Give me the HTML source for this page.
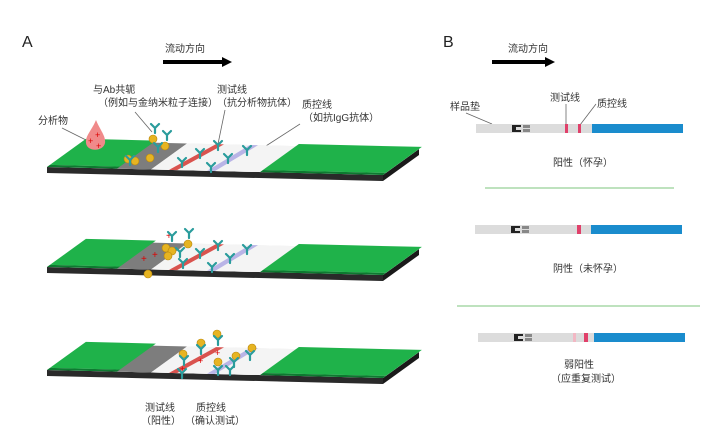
<!DOCTYPE html>
<html><head><meta charset="utf-8"><style>
html,body{margin:0;padding:0;background:#fff;width:716px;height:447px;overflow:hidden}
svg text{font-family:"Liberation Sans","Noto Sans CJK SC",sans-serif;fill:#333}
</style></head><body>
<svg width="716" height="447" viewBox="0 0 716 447" xmlns="http://www.w3.org/2000/svg">
<defs>
<g id="strip">
  <polygon points="47,167 383,175 383,181 47,173" fill="#2a2a2a"/>
  <polygon points="419,149 383,175 383,181 419,155" fill="#1a1a1a"/>
  <g transform="matrix(1,0.0238,1.44,-1.04,47,167)">
    <polygon points="0,0 336,0 336,25 0,25" fill="#e8e8e8"/>
    <polygon points="68,0 104,0 104,25 68,25" fill="#7d7d7d"/>
    <polygon points="104,0 216,0 216,25 104,25" fill="#f4f4f4"/>
    <polygon points="122,0 130,0 141,25 133,25" fill="#d9534f"/>
    <polygon points="160,0 168,0 175,25 167,25" fill="#b9b4e6"/>
    <polygon points="0,2 70,2 70,27 0,27" fill="#1fb24a"/>
    <polygon points="213,2 336,2 336,27 213,27" fill="#1fb24a"/>
    <polygon points="0,0 70,0 70,2 0,2" fill="#0d7a30"/>
    <polygon points="213,0 336,0 336,2 213,2" fill="#0d7a30"/>
  </g>
</g>
<g id="ab"><path d="M0,0 L0,-5 M0,-5 L-4,-9 M0,-5 L4,-9" stroke="#2a9c9c" stroke-width="2.2" fill="none" stroke-linecap="round"/></g>
<circle id="au" r="4" fill="#e6b422" stroke="#b8860b" stroke-width="0.6"/>
</defs>

<text x="22" y="47" font-size="16" style="fill:#222">A</text>
<text x="165" y="52" font-size="10">流动方向</text>
<polygon points="163,60 222,60 222,57 232,62 222,67 222,64 163,64" fill="#000"/>

<text x="93" y="93" font-size="10">与Ab共轭</text>
<text x="98" y="106" font-size="10">（例如与金纳米粒子连接）</text>
<text x="217" y="93" font-size="10">测试线</text>
<text x="217" y="106" font-size="10">（抗分析物抗体）</text>
<text x="302" y="108" font-size="10">质控线</text>
<text x="303" y="121" font-size="10">（如抗IgG抗体）</text>
<text x="38" y="124" font-size="10">分析物</text>
<line x1="62" y1="128" x2="86" y2="140" stroke="#666" stroke-width="0.8"/>
<line x1="135" y1="112" x2="152" y2="132" stroke="#666" stroke-width="0.8"/>
<line x1="225" y1="110" x2="218" y2="144" stroke="#666" stroke-width="0.8"/>
<line x1="300" y1="124" x2="255" y2="153" stroke="#666" stroke-width="0.8"/>

<use href="#strip"/>
<path d="M96,120 C100,130 106,136 105,143 C103,152 87,152 86,143 C85,136 92,130 96,120Z" fill="#f08a8a"/>
<text x="88" y="144" font-size="9" style="fill:#d00">+</text><text x="95" y="138" font-size="9" style="fill:#d00">+</text><text x="96" y="149" font-size="9" style="fill:#d00">+</text>
<g>
<use href="#au" x="153" y="139"/><use href="#au" x="165" y="146"/><use href="#au" x="150" y="158"/><use href="#au" x="135" y="161"/><use href="#au" x="128" y="159"/>
<use href="#ab" x="155" y="133"/><use href="#ab" x="167" y="140"/><use href="#ab" x="158" y="152"/><use href="#ab" x="130" y="165"/>
<use href="#ab" x="218" y="150"/><use href="#ab" x="200" y="158"/><use href="#ab" x="182" y="167"/>
<use href="#ab" x="247" y="155"/><use href="#ab" x="228" y="163"/><use href="#ab" x="211" y="172"/>
</g>

<g transform="translate(0,100)"><use href="#strip"/></g>
<text x="166" y="239" font-size="10" style="fill:#d00">+</text>
<text x="141" y="262" font-size="10" style="fill:#d00">+</text><text x="152" y="258" font-size="10" style="fill:#d00">+</text>
<use href="#au" x="166" y="248"/><use href="#au" x="172" y="251"/><use href="#au" x="168" y="256"/><use href="#au" x="188" y="244"/><use href="#au" x="148" y="274"/>
<use href="#ab" x="172" y="241"/><use href="#ab" x="189" y="238"/><use href="#ab" x="180" y="257"/>
<use href="#ab" x="218" y="250"/><use href="#ab" x="200" y="258"/><use href="#ab" x="183" y="268"/>
<use href="#ab" x="247" y="254"/><use href="#ab" x="230" y="263"/><use href="#ab" x="212" y="272"/>

<g transform="translate(0,203)"><use href="#strip"/></g>
<use href="#au" x="183" y="354"/><use href="#au" x="201" y="343"/><use href="#au" x="217" y="334"/><use href="#au" x="236" y="356"/><use href="#au" x="252" y="348"/><use href="#au" x="218" y="362"/>
<use href="#ab" x="184" y="365"/><use href="#ab" x="201" y="354"/><use href="#ab" x="218" y="345"/><use href="#ab" x="234" y="367"/><use href="#ab" x="250" y="360"/><use href="#ab" x="218" y="375"/><use href="#ab" x="182" y="378"/><use href="#ab" x="230" y="375"/>
<text x="180" y="372" font-size="9" style="fill:#d00">+</text><text x="198" y="364" font-size="9" style="fill:#d00">+</text><text x="215" y="356" font-size="9" style="fill:#d00">+</text>
<text x="145" y="411" font-size="10">测试线</text>
<text x="141" y="424" font-size="10">（阳性）</text>
<text x="196" y="411" font-size="10">质控线</text>
<text x="185" y="424" font-size="10">（确认测试）</text>

<text x="443" y="47" font-size="16" style="fill:#222">B</text>
<text x="508" y="52" font-size="10">流动方向</text>
<polygon points="492,60 545,60 545,57 555,62 545,67 545,64 492,64" fill="#000"/>

<text x="450" y="110" font-size="10">样品垫</text>
<line x1="466" y1="113" x2="492" y2="124" stroke="#666" stroke-width="0.8"/>
<text x="550" y="101" font-size="10">测试线</text>
<line x1="566" y1="104" x2="566" y2="125" stroke="#666" stroke-width="0.8"/>
<text x="597" y="107" font-size="10">质控线</text>
<line x1="596" y1="104" x2="580" y2="125" stroke="#666" stroke-width="0.8"/>

<g id="bstrip">
<rect x="476" y="124" width="116" height="9" fill="#dcdcdc"/>
<rect x="512" y="125" width="4" height="7" fill="#222"/><rect x="516" y="125" width="5" height="2" fill="#222"/><rect x="516" y="130" width="5" height="2" fill="#222"/>
<rect x="523" y="125" width="7" height="3" fill="#888"/><rect x="523" y="129" width="7" height="3" fill="#888"/>
<rect x="592" y="124" width="91" height="9" fill="#1a8ccd"/>
</g>
<rect x="565" y="124" width="3" height="9" fill="#e0406a"/>
<rect x="578" y="124" width="3" height="9" fill="#e0406a"/>
<text x="553" y="166" font-size="10">阳性（怀孕）</text>
<line x1="485" y1="188" x2="674" y2="188" stroke="#7cc47c" stroke-width="1"/>

<g transform="translate(-1,101)"><use href="#bstrip"/></g>
<rect x="577" y="225" width="4" height="9" fill="#e0406a"/>
<text x="553" y="272" font-size="10">阴性（未怀孕）</text>
<line x1="457" y1="306" x2="700" y2="306" stroke="#7cc47c" stroke-width="1"/>

<g transform="translate(2,209)"><use href="#bstrip"/></g>
<rect x="573" y="333" width="3" height="9" fill="#f2b8c4"/>
<rect x="584" y="333" width="4" height="9" fill="#e0406a"/>
<text x="564" y="368" font-size="10">弱阳性</text>
<text x="551" y="382" font-size="10">（应重复测试）</text>
</svg>
</body></html>
